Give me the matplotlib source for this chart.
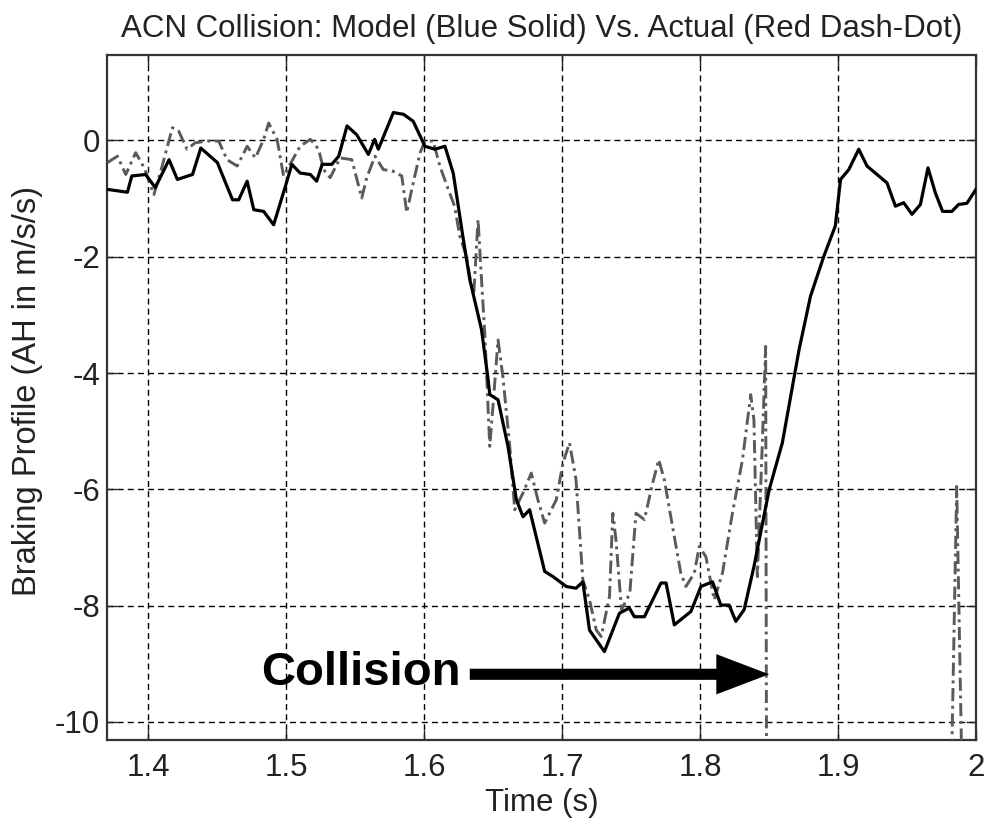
import matplotlib
matplotlib.use("Agg")
import matplotlib.pyplot as plt
from matplotlib.patches import ArrowStyle

plt.rcParams['font.family'] = ['Liberation Sans', 'DejaVu Sans']

# Model (solid) braking profile
t_model = [1.370, 1.3848, 1.388, 1.398, 1.405, 1.415, 1.421, 1.432, 1.438, 1.450, 1.461, 1.4655,
           1.4716, 1.4764, 1.4836, 1.4908, 1.4993, 1.504, 1.510, 1.5174, 1.522, 1.526, 1.533, 1.538,
           1.544, 1.551, 1.5595, 1.564, 1.5667, 1.5776, 1.585, 1.592, 1.6005, 1.6077, 1.615, 1.621,
           1.628, 1.633, 1.6415, 1.6463, 1.6475, 1.6535, 1.6607, 1.6668, 1.6716, 1.6764, 1.6873,
           1.6933, 1.703, 1.710, 1.715, 1.7198, 1.7306, 1.7415, 1.7487, 1.7523, 1.7596, 1.7716,
           1.7753, 1.7813, 1.7933, 1.8006, 1.809, 1.815, 1.821, 1.8259, 1.8319, 1.839, 1.85, 1.8596,
           1.8717, 1.880, 1.8897, 1.898, 1.9018, 1.9078, 1.915, 1.921, 1.9295, 1.9355, 1.9416,
           1.9476, 1.9536, 1.9597, 1.9652, 1.9705, 1.9758, 1.9825, 1.9874, 1.9934, 2.0]
v_model = [-0.84, -0.89, -0.61, -0.585, -0.81, -0.33, -0.67, -0.585, -0.13, -0.38, -1.02, -1.02,
           -0.70, -1.19, -1.22, -1.45, -0.79, -0.41, -0.56, -0.585, -0.70, -0.41, -0.41, -0.27,
           0.25, 0.10, -0.24, 0.02, -0.15, 0.48, 0.45, 0.33, -0.10, -0.15, -0.10, -0.56,
           -1.65, -2.39, -3.25, -4.11, -4.37, -4.46, -5.26, -6.18, -6.47, -6.35, -7.41,
           -7.50, -7.67, -7.70, -7.59, -8.42, -8.79, -8.13, -8.04, -8.19, -8.19, -7.61,
           -7.61, -8.33, -8.10, -7.67, -7.59, -7.99, -7.99, -8.27, -8.07, -7.33, -6.01, -5.20,
           -3.60, -2.68, -1.99, -1.47, -0.67, -0.50, -0.15, -0.44, -0.61, -0.73, -1.13,
           -1.07, -1.27, -1.10, -0.47, -0.90, -1.22, -1.22, -1.10, -1.08, -0.84]

# Actual (dash-dot) braking profile
t_act = [1.3703, 1.3776, 1.3836, 1.3908, 1.397, 1.404, 1.410, 1.4174, 1.422, 1.428, 1.434, 1.4427,
         1.451, 1.457, 1.4644, 1.4716, 1.4776, 1.4836, 1.4872, 1.4933, 1.498, 1.510, 1.5174,
         1.5234, 1.527, 1.5318, 1.539, 1.5475, 1.5547, 1.5583, 1.5643, 1.5703, 1.5776, 1.5837,
         1.5873, 1.592, 1.597, 1.6005, 1.6065, 1.6113, 1.6174, 1.622, 1.6258, 1.6306, 1.633,
         1.636, 1.639, 1.6415, 1.644, 1.6475, 1.65, 1.6535, 1.657, 1.662, 1.6656, 1.6716, 1.6776,
         1.6824, 1.6873, 1.6957, 1.7005, 1.7053, 1.710, 1.715, 1.7198, 1.7247, 1.7283, 1.7343,
         1.7367, 1.739, 1.743, 1.749, 1.7535, 1.7596, 1.7656, 1.770, 1.774, 1.780, 1.786, 1.7897,
         1.7958, 1.7994, 1.8042, 1.8102, 1.8162, 1.8234, 1.8307, 1.8367, 1.839, 1.8415, 1.845,
         1.8475, 1.8485, 1.979, 1.986, 1.993, 2.0]
v_act = [-0.38, -0.27, -0.585, -0.21, -0.47, -0.93, -0.44, 0.22, 0.16, -0.15, -0.04, -0.01,
         -0.01, -0.33, -0.44, -0.10, -0.30, 0.02, 0.30, 0.02, -0.61, -0.10, 0.02,
         -0.15, -0.50, -0.64, -0.30, -0.33, -0.99, -0.64, -0.27, -0.50, -0.53, -0.61,
         -1.24, -0.73, -0.21, -0.01, -0.01, -0.44, -0.84, -1.13, -1.65, -1.99, -2.34,
         -2.60, -1.36, -2.39, -3.37, -5.26, -4.51, -3.43, -4.06, -5.26, -6.35, -6.06, -5.72,
         -6.18, -6.58, -6.18, -5.55, -5.20, -5.83, -7.56, -7.90, -8.42, -8.53, -7.84,
         -6.41, -6.87, -8.07, -7.79, -6.41, -6.52, -5.89, -5.49, -5.83, -6.64, -7.44, -7.67,
         -7.44, -6.98, -7.16, -7.90, -7.44, -6.41, -5.49, -4.37, -4.80, -7.50, -5.26,
         -3.54, -15.0, -15.0, -5.95, -15.0, -15.0]

x_ticks = [1.4, 1.5, 1.6, 1.7, 1.8, 1.9, 2.0]
x_tick_labels = ['1.4', '1.5', '1.6', '1.7', '1.8', '1.9', '2']
y_ticks = [0, -2, -4, -6, -8, -10]
y_tick_labels = ['0', '-2', '-4', '-6', '-8', '-10']

collision_label = 'Collision'
collision_time = 1.85
collision_level = -9.15
arrow_start_time = 1.633

FS = 22.5

fig = plt.figure(figsize=(9.89, 8.27), dpi=100)
ax = fig.add_axes([107 / 989, 1 - 740 / 827, (976 - 107) / 989, (740 - 55) / 827])

ax.plot(t_act, v_act, color='#5a5a5a', lw=2.1, linestyle=(0, (4.5, 1.6, 1.0, 1.6)), zorder=3)
ax.plot(t_model, v_model, color='black', lw=2.3, zorder=4)

ax.set_xlim(1.37, 2.0)
ax.set_ylim(-10.31, 1.47)
ax.set_xticks(x_ticks)
ax.set_xticklabels(x_tick_labels)
ax.set_yticks(y_ticks)
ax.set_yticklabels(y_tick_labels)

ax.grid(True, color='black', lw=1.0, linestyle=(0, (4.3, 3.0)))
ax.set_axisbelow(True)
ax.tick_params(direction='in', length=7, width=1, top=True, right=True,
               labelsize=FS, colors='#222222')
ax.tick_params(axis='x', pad=9)
ax.tick_params(axis='y', pad=5)
for s in ax.spines.values():
    s.set_linewidth(1.6)
    s.set_color('#333333')

ax.set_title('ACN Collision: Model (Blue Solid) Vs. Actual (Red Dash-Dot)', fontsize=FS, pad=13,
             color='#222222')
ax.set_xlabel('Time (s)', fontsize=FS, labelpad=4, color='#222222')
ax.set_ylabel('Braking Profile (AH in m/s/s)', fontsize=23.5, color='#222222')
ax.yaxis.set_label_coords(-0.074, 0.509)

ax.text(1.4815, collision_level, collision_label, fontsize=34, fontweight='bold',
        ha='left', va='center', zorder=6)
ax.annotate('', xy=(collision_time, collision_level - 0.03),
            xytext=(arrow_start_time, collision_level - 0.03),
            arrowprops=dict(arrowstyle=ArrowStyle.Simple(head_length=3.8, head_width=2.9,
                                                         tail_width=0.8),
                            mutation_scale=10, color='black', shrinkA=0, shrinkB=0, lw=0),
            zorder=6)

fig.savefig('out.png', dpi=100, facecolor='white')
